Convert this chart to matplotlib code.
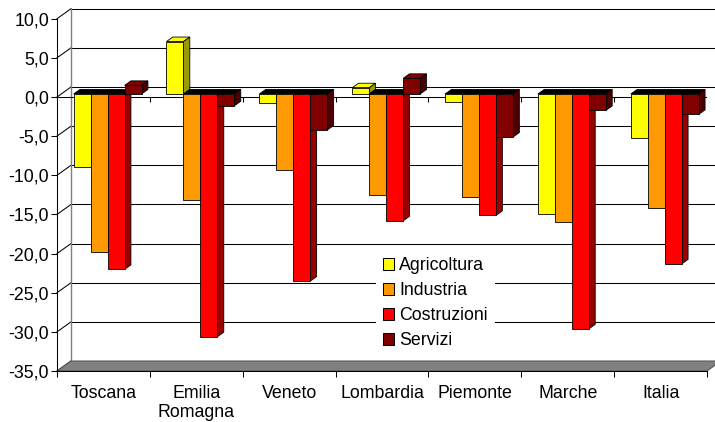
import numpy as np
import matplotlib
matplotlib.use('Agg')
import matplotlib.pyplot as plt
from matplotlib.patches import Polygon, Patch

# Variazioni percentuali per regione e settore
regioni = ['Toscana', 'Emilia\nRomagna', 'Veneto', 'Lombardia', 'Piemonte', 'Marche', 'Italia']
settori = ['Agricoltura', 'Industria', 'Costruzioni', 'Servizi']

agricoltura = [-9.3, 6.7, -1.1, 0.8, -1.0, -15.3, -5.6]
industria = [-20.2, -13.6, -9.7, -12.9, -13.2, -16.4, -14.6]
costruzioni = [-22.4, -31.0, -23.9, -16.2, -15.5, -30.0, -21.7]
servizi = [1.1, -1.5, -4.6, 2.0, -5.5, -2.1, -2.6]

serie = [agricoltura, industria, costruzioni, servizi]
colori = ['#FFFF00', '#FF9900', '#FF0000', '#800000']
colori_lato = ['#999900', '#995C00', '#990000', '#4A0000']

plt.rcParams['font.family'] = ['Liberation Sans', 'DejaVu Sans']
plt.rcParams['font.size'] = 12.8

W, H = 715, 422
fig = plt.figure(figsize=(W / 100, H / 100), dpi=100)

# Piano frontale del grafico, in pixel
x_sx, x_dx = 57, 707
y_alto, y_basso = 18.7, 371
ax = fig.add_axes([x_sx / W, 1 - y_basso / H, (x_dx - x_sx) / W, (y_basso - y_alto) / H])

ymin, ymax = -35, 10
n = len(regioni)
ax.set_xlim(0, n)
ax.set_ylim(ymin, ymax)

# Profondità dell'effetto 3D (spostamento della parete di fondo)
px_x = (x_dx - x_sx) / n
px_y = (y_basso - y_alto) / (ymax - ymin)
DX = 14 / px_x
DY = 10 / px_y

yticks = np.arange(ymin, ymax + 0.1, 5)

# Griglia sulla parete di fondo e sulla parete laterale
for y in yticks:
    ax.plot([DX, n + DX], [y + DY, y + DY], color='black', lw=0.75, clip_on=False, zorder=1)
    ax.plot([0, DX], [y, y + DY], color='black', lw=0.75, clip_on=False, zorder=1)
ax.plot([DX, DX], [ymin + DY, ymax + DY], color='#808080', lw=1, clip_on=False, zorder=1)

# Pavimento grigio
pavimento = Polygon([(0, ymin), (n, ymin), (n + DX, ymin + DY), (DX, ymin + DY)],
                    closed=True, facecolor='#808080', edgecolor='#555555', lw=0.75,
                    clip_on=False, zorder=1.5)
ax.add_patch(pavimento)

# Asse delle categorie sullo zero
ax.plot([0, n], [0, 0], color='black', lw=0.75, zorder=1.2)
ax.vlines(np.arange(1, n + 1), -0.7, 0, color='black', lw=0.75, zorder=1.2)

# Barre 3D
w = 0.183
margine = (1 - len(serie) * w) / 2
f1, f2 = 0.3, 0.75
b = f1 * DY
ddx = (f2 - f1) * DX
ddy = (f2 - f1) * DY

for j, valori in enumerate(serie):
    z = 3 + j * 0.1
    x0 = np.arange(n) + margine + j * w + f1 * DX
    for xi, v in zip(x0, valori):
        if v >= 0:
            sopra = [(xi, b + v), (xi + w, b + v), (xi + w + ddx, b + v + ddy), (xi + ddx, b + v + ddy)]
            col_sopra = colori[j]
            lato = [(xi + w, b), (xi + w, b + v), (xi + w + ddx, b + v + ddy), (xi + w + ddx, b + ddy)]
        else:
            sopra = [(xi, b), (xi + w, b), (xi + w + ddx, b + ddy), (xi + ddx, b + ddy)]
            col_sopra = 'black'
            lato = [(xi + w, b + v), (xi + w, b), (xi + w + ddx, b + ddy), (xi + w + ddx, b + v + ddy)]
        ax.add_patch(Polygon(sopra, closed=True, facecolor=col_sopra, edgecolor='black',
                             lw=0.6, zorder=z, clip_on=False))
        ax.add_patch(Polygon(lato, closed=True, facecolor=colori_lato[j], edgecolor='black',
                             lw=0.6, zorder=z, clip_on=False))
    ax.bar(x0, valori, width=w, bottom=b, align='edge', color=colori[j],
           edgecolor='black', lw=0.6, zorder=z + 0.05)

# Assi
for lato_ax in ['top', 'right']:
    ax.spines[lato_ax].set_visible(False)
ax.spines['left'].set_linewidth(0.75)
ax.spines['bottom'].set_linewidth(0.75)
ax.spines['bottom'].set_zorder(2)

ax.set_yticks(yticks)
ax.set_yticklabels([f'{t:.1f}'.replace('.', ',') for t in yticks])
ax.tick_params(axis='y', direction='out', length=4.3, width=0.75, pad=1.5)

ax.set_xticks(np.arange(n + 1))
ax.set_xticklabels([])
ax.set_xticks(np.arange(n) + 0.5, minor=True)
ax.set_xticklabels(regioni, minor=True)
ax.tick_params(axis='x', which='major', direction='out', length=4.3, width=0.75)
ax.tick_params(axis='x', which='minor', length=0, pad=10)

# Legenda
handles = [Patch(facecolor=c, edgecolor='black', lw=0.75) for c in colori]
leg = ax.legend(handles, settori, loc='upper left',
                bbox_to_anchor=(375.6 / W, 1 - 250 / H), bbox_transform=fig.transFigure,
                frameon=True, fancybox=False, edgecolor='none', facecolor='white',
                framealpha=1, borderpad=0.4, borderaxespad=0, handlelength=0.65,
                handleheight=0.65, handletextpad=0.28, labelspacing=0.45)
leg.set_zorder(5)

fig.savefig('out.png', dpi=100)
plt.close()
